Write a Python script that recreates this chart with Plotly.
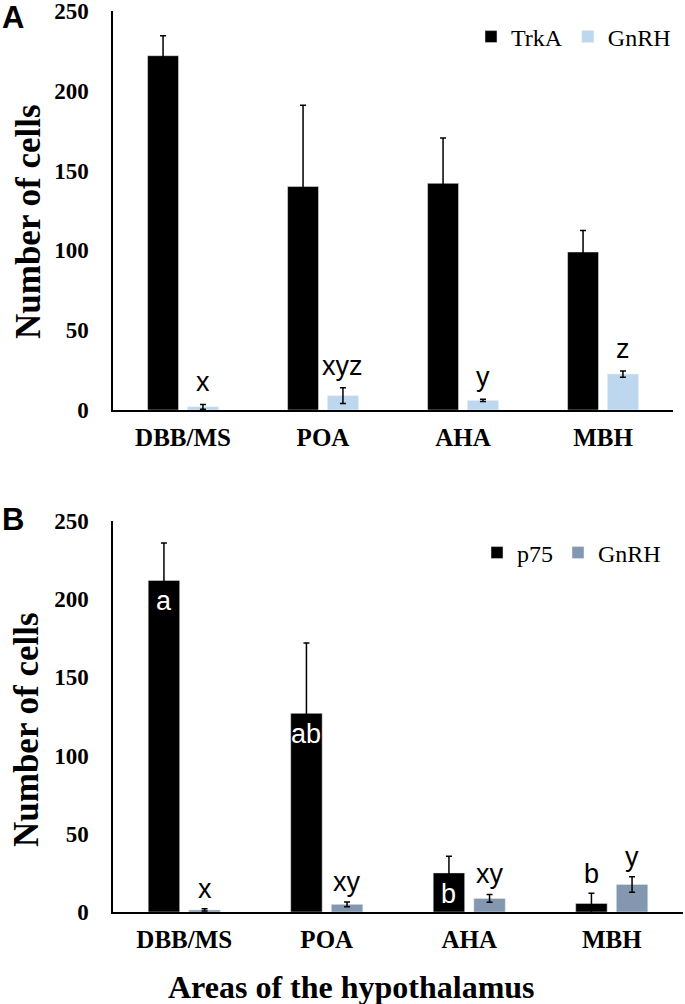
import plotly.graph_objects as go

W, H = 685, 1004

categories = ["DBB/MS", "POA", "AHA", "MBH"]

# Panel A
trka = [222, 140, 142, 99]
trka_err = [12.5, 51, 28.5, 13.5]
gnrh_a = [2, 9, 6, 22.5]
gnrh_a_err = [1.5, 5, 0.7, 2]
sig_gnrh_a = ["x", "xyz", "y", "z"]

# Panel B
p75 = [212, 127, 25, 5.5]
p75_err = [24, 45, 10.7, 6.5]
gnrh_b = [1.3, 4.9, 8.7, 17.6]
gnrh_b_err = [0.7, 1.5, 2.5, 5]
sig_p75 = ["a", "ab", "b", "b"]
sig_gnrh_b = ["x", "xy", "xy", "y"]

BLACK = "#000000"
LIGHT_BLUE = "#BDD7EE"
GREY_BLUE = "#8497B0"
SERIF = "Liberation Serif, Times New Roman, serif"
SANS = "Liberation Sans, Arial, sans-serif"


def px_x(p):
    return p / W


def px_y(p):
    return 1 - p / H


def err(arr):
    return dict(type="data", array=arr, visible=True, color="black", thickness=1.5, width=3)


fig = go.Figure()
fig.add_trace(go.Bar(x=categories, y=trka, name="TrkA", marker_color=BLACK,
                     error_y=err(trka_err), xaxis="x", yaxis="y", legend="legend"))
fig.add_trace(go.Bar(x=categories, y=gnrh_a, name="GnRH", marker_color=LIGHT_BLUE,
                     error_y=err(gnrh_a_err), xaxis="x", yaxis="y", legend="legend"))
fig.add_trace(go.Bar(x=categories, y=p75, name="p75", marker_color=BLACK,
                     error_y=err(p75_err), xaxis="x2", yaxis="y2", legend="legend2"))
fig.add_trace(go.Bar(x=categories, y=gnrh_b, name="GnRH", marker_color=GREY_BLUE,
                     error_y=err(gnrh_b_err), xaxis="x2", yaxis="y2", legend="legend2"))

BARGAP = 0.43
GROUPGAP = 0.225
off = (1 - BARGAP) / 4  # center offset of each bar in a pair

LETTER = dict(family=SANS, size=27, color="black")
ann = []
# significance letters panel A (above GnRH bars)
for i, (v, e, t) in enumerate(zip(gnrh_a, gnrh_a_err, sig_gnrh_a)):
    ann.append(dict(x=i + off, y=v + e, xref="x", yref="y", text=t, showarrow=False,
                    yanchor="bottom", yshift=5, font=LETTER))
# panel B
for i, (v, e, t) in enumerate(zip(gnrh_b, gnrh_b_err, sig_gnrh_b)):
    ann.append(dict(x=i + off, y=v + e, xref="x2", yref="y2", text=t, showarrow=False,
                    yanchor="bottom", yshift=3, font=LETTER))
for i, (v, e, t) in enumerate(zip(p75, p75_err, sig_p75)):
    if v > 20:
        ann.append(dict(x=i - off, y=v, xref="x2", yref="y2", text=t, showarrow=False,
                        yanchor="top", yshift=-4, font=dict(LETTER, color="white")))
    else:
        ann.append(dict(x=i - off, y=v + e, xref="x2", yref="y2", text=t, showarrow=False,
                        yanchor="bottom", yshift=2, font=LETTER))

# panel letters
ann.append(dict(x=0, y=px_y(18), xref="paper", yref="paper", text="<b>A</b>", showarrow=False,
                xanchor="left", yanchor="middle", font=dict(family=SANS, size=31, color="black")))
ann.append(dict(x=0, y=px_y(519), xref="paper", yref="paper", text="<b>B</b>", showarrow=False,
                xanchor="left", yanchor="middle", font=dict(family=SANS, size=31, color="black")))
# y titles
ann.append(dict(x=px_x(28), y=px_y(222), xref="paper", yref="paper", text="<b>Number of cells</b>",
                showarrow=False, textangle=-90, xanchor="center", yanchor="middle",
                font=dict(family=SERIF, size=35, color="black")))
ann.append(dict(x=px_x(26), y=px_y(730), xref="paper", yref="paper", text="<b>Number of cells</b>",
                showarrow=False, textangle=-90, xanchor="center", yanchor="middle",
                font=dict(family=SERIF, size=35, color="black")))
# x title
ann.append(dict(x=px_x(351), y=px_y(987), xref="paper", yref="paper", text="<b>Areas of the hypothalamus</b>",
                showarrow=False, xanchor="center", yanchor="middle",
                font=dict(family=SERIF, size=32, color="black")))

yax = dict(range=[0, 250], dtick=50, showgrid=False, zeroline=False, showline=True,
           linecolor="black", linewidth=1.5, ticks="", ticklabelstandoff=18, automargin=False,
           ticklabeloverflow="allow",
           tickfont=dict(family=SERIF, size=23, color="black"), tickprefix="<b>", ticksuffix="</b>")
xax = dict(showgrid=False, zeroline=False, showline=True, linecolor="black", linewidth=2,
           ticks="", ticklabelstandoff=4, automargin=False, ticklabeloverflow="allow",
           tickfont=dict(family=SERIF, size=25, color="black"),
           tickprefix="<b>", ticksuffix="</b>", type="category")

fig.update_layout(
    width=W, height=H, autosize=False,
    margin=dict(l=0, r=0, t=0, b=0),
    paper_bgcolor="white", plot_bgcolor="white",
    barmode="group", bargap=BARGAP, bargroupgap=GROUPGAP,
    xaxis=dict(xax, domain=[px_x(113), px_x(673)], anchor="y"),
    yaxis=dict(yax, domain=[px_y(410), px_y(11)], anchor="x"),
    xaxis2=dict(xax, domain=[px_x(113), px_x(683)], anchor="y2"),
    yaxis2=dict(yax, domain=[px_y(912), px_y(521)], anchor="x2"),
    legend=dict(orientation="h", x=px_x(676), xanchor="right", y=px_y(37), yanchor="middle",
                font=dict(family=SERIF, size=24, color="black"), bgcolor="rgba(0,0,0,0)",
                itemwidth=30, tracegroupgap=0),
    legend2=dict(orientation="h", x=px_x(666), xanchor="right", y=px_y(553), yanchor="middle",
                 font=dict(family=SERIF, size=24, color="black"), bgcolor="rgba(0,0,0,0)",
                 itemwidth=30, tracegroupgap=0),
    annotations=ann,
    showlegend=True,
)

fig.write_html("out.html", config={"displayModeBar": False},
               post_script="document.body.style.margin='0';")
